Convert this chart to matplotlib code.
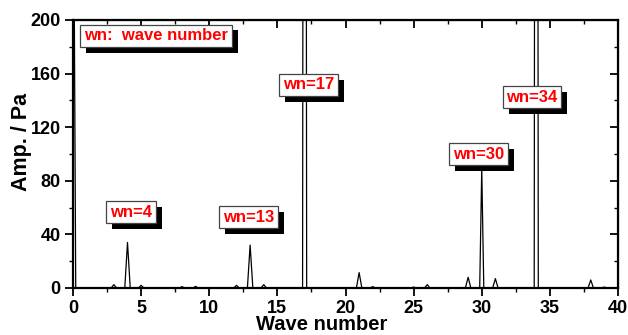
import matplotlib
matplotlib.use("Agg")
import matplotlib.pyplot as plt
import matplotlib.patheffects as pe
from matplotlib.ticker import MultipleLocator

plt.rcParams['font.family'] = ['Liberation Sans', 'DejaVu Sans']
plt.rcParams['font.weight'] = 'bold'

# Amplitude spectrum vertices (wave number, amplitude in Pa)
wave_number = [0.0, 0.2,
               2.8, 3.0, 3.2, 3.8, 4.0, 4.2, 4.8, 5.0, 5.2,
               7.8, 8.0, 8.2, 8.8, 9.0, 9.2,
               11.8, 12.0, 12.2, 12.8, 13.0, 13.2, 13.8, 14.0, 14.2,
               16.85, 17.0, 17.15,
               20.8, 21.0, 21.2, 21.8, 22.0, 22.2,
               24.8, 25.0, 25.2, 25.8, 26.0, 26.2,
               28.8, 29.0, 29.2, 29.85, 30.0, 30.15, 30.8, 31.0, 31.2,
               33.85, 34.0, 34.15,
               37.8, 38.0, 38.2, 38.8, 39.0, 39.2, 40.0]
amplitude = [400, 0,
             0, 2.5, 0, 0, 34, 0, 0, 2, 0,
             0, 1, 0, 0, 1.2, 0,
             0, 2, 0, 0, 32, 0, 0, 2.5, 0,
             0, 1500, 0,
             0, 11.5, 0, 0, 1, 0,
             0, 0.7, 0, 0, 2.5, 0,
             0, 8, 0, 0, 89, 0, 0, 7, 0,
             0, 1500, 0,
             0, 6, 0, 0, 0.7, 0, 0]

# Peak annotations: text, x, y (data units)
note_texts = ['wn:  wave number', 'wn=4', 'wn=13', 'wn=17', 'wn=30', 'wn=34']
note_x = [6.1, 4.26, 12.9, 17.3, 29.76, 33.7]
note_y = [188.3, 56.6, 52.8, 151.7, 99.8, 142.4]

x_ticks = [0, 5, 10, 15, 20, 25, 30, 35, 40]
y_ticks = [0, 40, 80, 120, 160, 200]

fig = plt.figure(figsize=(6.28, 3.35), dpi=100)
ax = fig.add_axes([73/628, 1 - 288/335, 545/628, 268/335])

ax.plot(wave_number, amplitude, color='black', lw=0.9, zorder=2)

ax.set_xlim(0, 40)
ax.set_ylim(0, 200)
ax.set_xticks(x_ticks)
ax.set_yticks(y_ticks)
ax.xaxis.set_minor_locator(MultipleLocator(2.5))
ax.yaxis.set_minor_locator(MultipleLocator(20))
ax.tick_params(which='major', direction='out', length=5.5, width=1.3, labelsize=13)
ax.tick_params(axis='x', which='major', pad=3)
ax.tick_params(axis='y', which='major', pad=3.5)
ax.tick_params(which='minor', direction='out', length=3, width=1.0)
for lab in ax.get_xticklabels() + ax.get_yticklabels():
    lab.set_fontweight('bold')
for s in ax.spines.values():
    s.set_linewidth(1.6)

# Mirrored inward ticks on top and right
top = ax.secondary_xaxis('top')
top.set_xticks(x_ticks)
top.xaxis.set_minor_locator(MultipleLocator(2.5))
top.tick_params(which='major', direction='in', length=5.5, width=1.3, labeltop=False)
top.tick_params(which='minor', direction='in', length=3, width=1.0)
right = ax.secondary_yaxis('right')
right.set_yticks(y_ticks)
right.yaxis.set_minor_locator(MultipleLocator(20))
right.tick_params(which='major', direction='in', length=5.5, width=1.3, labelright=False)
right.tick_params(which='minor', direction='in', length=3, width=1.0)

ax.set_xlabel('Wave number', fontsize=14.5, fontweight='bold')
ax.xaxis.set_label_coords(0.457, -0.157, transform=ax.transAxes)
ax.xaxis.label.set_va('baseline')
ax.set_ylabel('Amp. / Pa', fontsize=15.5, fontweight='bold')
ax.yaxis.set_label_coords(-0.076, 0.545, transform=ax.transAxes)

for t, x, y in zip(note_texts, note_x, note_y):
    txt = ax.text(x, y, t, color='red', fontsize=12, fontweight='bold',
                  ha='center', va='center', zorder=5,
                  bbox=dict(boxstyle='square,pad=0.22', facecolor='white',
                            edgecolor='#444444', linewidth=0.9))
    txt.get_bbox_patch().set_path_effects([
        pe.SimplePatchShadow(offset=(4.3, -4.3), shadow_rgbFace='black', alpha=1.0),
        pe.Normal()])

fig.savefig('out.png', dpi=100)
